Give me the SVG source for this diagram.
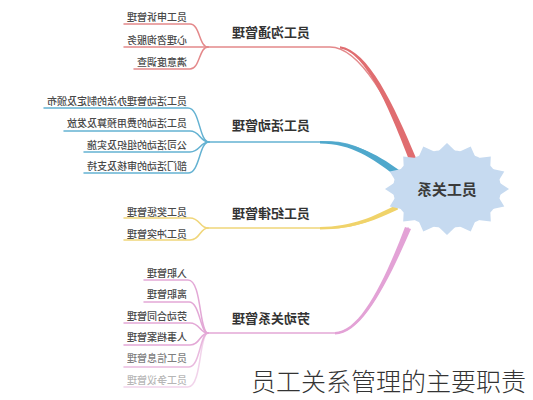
<svg xmlns="http://www.w3.org/2000/svg" width="533" height="400" viewBox="0 0 533 400">
<style>
text{font-family:"Noto Sans CJK SC","Noto Sans",sans-serif;}
.leaf{font-size:10px;fill:#4a4a4a;font-weight:500;}
.main{font-size:13px;fill:#333;font-weight:700;}
.center{font-size:15px;fill:#3a3a3a;font-weight:700;}
.cap{font-size:25px;fill:#333;font-weight:300;}
.ln{fill:none;stroke-width:1.5;stroke-linecap:round;}
.red{stroke:#e4898b;}
.blue{stroke:#64b2d2;}
.yel{stroke:#f0d67a;}
.pink{stroke:#e3a8d6;}
</style>
<rect width="533" height="400" fill="#fff"/>
<g id="connectors">
  <g id="c1">
    <path class="ln red" d="M124,24 H190 C200,24 199,47 208,47"/>
    <path class="ln red" d="M124,47 H208"/>
    <path class="ln red" d="M134,69 H190 C200,69 199,47 208,47"/>
    <path class="ln red" stroke-width="2" d="M208,47 H330 C360,47 392,105 413,160"/>
    <path fill="#e06d70" d="M340,46.3 C368,50 394,105 416,158 L410,162 C390,110 366,52 340,48.6 Z"/>
  </g>
  <g id="c2">
    <path class="ln blue" d="M44,108 H188 C200,108 199,142 209,142"/>
    <path class="ln blue" d="M64,131 H190 C200,131 200,142 209,142"/>
    <path class="ln blue" d="M84,152 H190 C200,152 200,142 209,142"/>
    <path class="ln blue" d="M84,173 H188 C200,173 199,142 209,142"/>
    <path class="ln blue" stroke-width="2" d="M209,142 H330 C355,142 376,156 396,172"/>
    <path fill="#4fa8cc" d="M320,140.9 C352,140.9 376,153 399,170 L394,174.5 C373,159 352,143.4 320,143.4 Z"/>
  </g>
  <g id="c3">
    <path class="ln yel" d="M124,218 H190 C200,218 200,228 208,228"/>
    <path class="ln yel" d="M124,240 H190 C200,240 200,228 208,228"/>
    <path class="ln yel" stroke-width="2" d="M208,228 H330 C358,228 378,217 397,207"/>
    <path fill="#f0d36a" d="M320,226.9 C352,226.9 375,216 397,204.5 L398,209.5 C378,219 355,229.4 320,229.4 Z"/>
  </g>
  <g id="c4">
    <path class="ln pink" d="M144,280 H188 C202,280 199,333 208,333"/>
    <path class="ln pink" d="M144,302 H189 C200,302 200,333 208,333"/>
    <path class="ln pink" d="M124,323 H190 C200,323 200,333 208,333"/>
    <path class="ln pink" d="M124,345 H190 C200,345 200,333 208,333"/>
    <path class="ln pink" opacity="0.8" d="M124,367 H189 C200,367 200,333 208,333"/>
    <path class="ln pink" opacity="0.5" d="M124,387 H188 C202,387 199,333 208,333"/>
    <path class="ln pink" stroke-width="2" d="M208,333 H335 C362,333 388,280 408,228"/>
    <path fill="#e3a2d6" d="M335,331.9 C360,331.9 385,280 405,227 L411,229 C388,282 362,334.4 335,334.4 Z"/>
  </g>
</g>
<g id="center">
  <polygon fill="#c6daf0" points="509,189 498,196.2 504.3,206.6 490.2,209.6 490.8,221.5 475.9,219.7 470.7,231.5 457.1,225.3 447,235 436.9,225.3 423.3,231.5 418.1,219.7 403.2,221.5 403.8,209.6 389.7,206.6 396,196.2 385,189 396,181.8 389.7,171.4 403.8,168.4 403.2,156.5 418.1,158.3 423.3,146.5 436.9,152.7 447,143 457.1,152.7 470.7,146.5 475.9,158.3 490.8,156.5 490.2,168.4 504.3,171.4 498,181.8"/>
  <ellipse cx="447" cy="189" rx="54" ry="39" fill="#c6daf0"/>
  <text class="center" transform="translate(477,195) scale(-1,1)">员工关系</text>
</g>
<g id="n1">
  <text class="main" transform="translate(310,37) scale(-1,1)">员工沟通管理</text>
  <text class="leaf" transform="translate(187,21) scale(-1,1)">员工申诉管理</text>
  <text class="leaf" transform="translate(187,44) scale(-1,1)">心理咨询服务</text>
  <text class="leaf" transform="translate(187,66) scale(-1,1)">满意度调查</text>
</g>
<g id="n2">
  <text class="main" transform="translate(310,130) scale(-1,1)">员工活动管理</text>
  <text class="leaf" transform="translate(187,104.5) scale(-1,1)">员工活动管理办法的制定及颁布</text>
  <text class="leaf" transform="translate(187,126.5) scale(-1,1)">员工活动的费用预算及发放</text>
  <text class="leaf" transform="translate(187,148.5) scale(-1,1)">公司活动的组织及实施</text>
  <text class="leaf" transform="translate(187,169.5) scale(-1,1)">部门活动的审核及支持</text>
</g>
<g id="n3">
  <text class="main" transform="translate(310,218) scale(-1,1)">员工纪律管理</text>
  <text class="leaf" transform="translate(187,215.5) scale(-1,1)">员工奖惩管理</text>
  <text class="leaf" transform="translate(187,237.5) scale(-1,1)">员工冲突管理</text>
</g>
<g id="n4">
  <text class="main" transform="translate(310,323) scale(-1,1)">劳动关系管理</text>
  <text class="leaf" transform="translate(187,276.5) scale(-1,1)">入职管理</text>
  <text class="leaf" transform="translate(187,297.5) scale(-1,1)">离职管理</text>
  <text class="leaf" transform="translate(187,319.5) scale(-1,1)">劳动合同管理</text>
  <text class="leaf" transform="translate(187,341) scale(-1,1)">人事档案管理</text>
  <text class="leaf" opacity="0.7" transform="translate(187,362) scale(-1,1)">员工信息管理</text>
  <text class="leaf" opacity="0.4" transform="translate(187,384) scale(-1,1)">员工争议管理</text>
</g>
<text class="cap" x="251" y="391">员工关系管理的主要职责</text>
</svg>
